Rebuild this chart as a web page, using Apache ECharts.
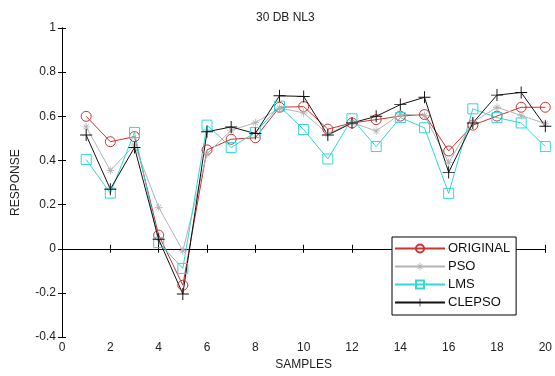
<!DOCTYPE html>
<html>
<head>
<meta charset="utf-8">
<script src="https://cdn.jsdelivr.net/npm/echarts@6/dist/echarts.min.js"></script>
<style>
  html, body { margin: 0; padding: 0; background: #fff; }
  #chart { width: 555px; height: 376px; }
</style>
</head>
<body>
<div id="chart"></div>
<script>
// samples 1..20, values
const samples = [1, 2, 3, 4, 5, 6, 7, 8, 9, 10, 11, 12, 13, 14, 15, 16, 17, 18, 19, 20]
const original = [0.60, 0.485, 0.508, 0.062, -0.165, 0.448, 0.496, 0.503, 0.641, 0.644, 0.542, 0.57, 0.585, 0.601, 0.608, 0.443, 0.56, 0.601, 0.641, 0.641]
const pso = [0.552, 0.355, 0.47, 0.188, -0.009, 0.43, 0.537, 0.571, 0.637, 0.616, 0.52, 0.571, 0.534, 0.61, 0.604, 0.39, 0.574, 0.641, 0.604, 0.567]
const lms = [0.404, 0.252, 0.527, 0.028, -0.089, 0.56, 0.459, 0.527, 0.646, 0.54, 0.407, 0.589, 0.463, 0.594, 0.548, 0.251, 0.634, 0.594, 0.57, 0.463]
const clepso = [0.515, 0.27, 0.459, 0.043, -0.205, 0.53, 0.552, 0.522, 0.693, 0.69, 0.515, 0.57, 0.60, 0.653, 0.686, 0.346, 0.57, 0.696, 0.708, 0.555]

const FONT = 'Liberation Sans, Arial, sans-serif'
// thin plus / asterisk markers (filled paths, no stroke)
const plus = 'path://M4.6,0 L5.4,0 L5.4,4.6 L10,4.6 L10,5.4 L5.4,5.4 L5.4,10 L4.6,10 L4.6,5.4 L0,5.4 L0,4.6 L4.6,4.6 Z'
const star = 'path://M4.5,0 L5.5,0 L5.5,4.5 L10,4.5 L10,5.5 L5.5,5.5 L5.5,10 L4.5,10 L4.5,5.5 L0,5.5 L0,4.5 L4.5,4.5 Z ' +
  'M1.5,2.2 L2.2,1.5 L8.5,7.8 L7.8,8.5 Z M7.8,1.5 L8.5,2.2 L2.2,8.5 L1.5,7.8 Z'

const zip = (ys) => samples.map((x, i) => [x, ys[i]])

// open markers get a transparent fill and a 1px outline, like MATLAB
function mkSeries(name, ys, color, symbol, size, open) {
  return {
    name,
    type: 'line',
    data: zip(ys),
    symbol,
    symbolSize: size,
    showAllSymbol: true,
    lineStyle: { color, width: 1 },
    itemStyle: open
      ? { color: 'rgba(255,255,255,0)', borderColor: color, borderWidth: 1 }
      : { color, borderWidth: 0 },
    emphasis: { disabled: true },
    animation: false,
  }
}

const chart = echarts.init(document.getElementById('chart'), null, { renderer: 'canvas' })

const axisCommon = {
  axisLine: { show: true, lineStyle: { color: '#000', width: 1 } },
  axisTick: { show: true, inside: true, length: 4, lineStyle: { color: '#000' } },
  splitLine: { show: false },
}

chart.setOption({
  backgroundColor: '#fff',
  animation: false,
  title: {
    text: '30 DB NL3',
    left: 251,
    top: 7,
    textStyle: { fontFamily: FONT, fontSize: 12, fontWeight: 'normal', color: '#222' },
  },
  grid: { left: 62, right: 7, top: 28, bottom: 34 },
  legend: {
    orient: 'vertical',
    left: 392,
    top: 237,
    itemWidth: 50,
    itemHeight: 10,
    itemGap: 5,
    padding: [5, 6, 6, 2],
    borderColor: '#000',
    borderWidth: 1,
    backgroundColor: '#fff',
    textStyle: { fontFamily: FONT, fontSize: 13, color: '#111', padding: [0, 0, 0, -2] },
    data: ['ORIGINAL', 'PSO', 'LMS', 'CLEPSO'],
  },
  xAxis: [
    {
      ...axisCommon,
      type: 'value', min: 0, max: 20, interval: 2, position: 'bottom',
      name: 'SAMPLES', nameLocation: 'middle', nameGap: 19,
      nameTextStyle: { fontFamily: FONT, fontSize: 12, color: '#222' },
      axisLabel: { fontFamily: FONT, fontSize: 12, color: '#222', margin: 5 },
    },
    {
      ...axisCommon,
      type: 'value', min: 0, max: 20, interval: 2, position: 'top',
      axisLabel: { show: false },
    },
  ],
  yAxis: [
    {
      ...axisCommon,
      type: 'value', min: -0.4, max: 1, interval: 0.2, position: 'left',
      name: 'RESPONSE', nameLocation: 'middle', nameGap: 40,
      nameTextStyle: { fontFamily: FONT, fontSize: 12, color: '#222' },
      axisLabel: {
        fontFamily: FONT, fontSize: 12, color: '#222', margin: 6,
        formatter: (v) => String(Math.round(v * 10) / 10),
      },
    },
    {
      ...axisCommon,
      type: 'value', min: -0.4, max: 1, interval: 0.2, position: 'right',
      axisLabel: { show: false },
    },
  ],
  series: [
    mkSeries('ORIGINAL', original, '#cc3333', 'circle', 10, true),
    mkSeries('PSO', pso, '#b4b4b4', star, 8, false),
    mkSeries('LMS', lms, '#33d8d8', 'rect', 10, true),
    mkSeries('CLEPSO', clepso, '#111111', plus, 12, false),
  ],
})
</script>
</body>
</html>
